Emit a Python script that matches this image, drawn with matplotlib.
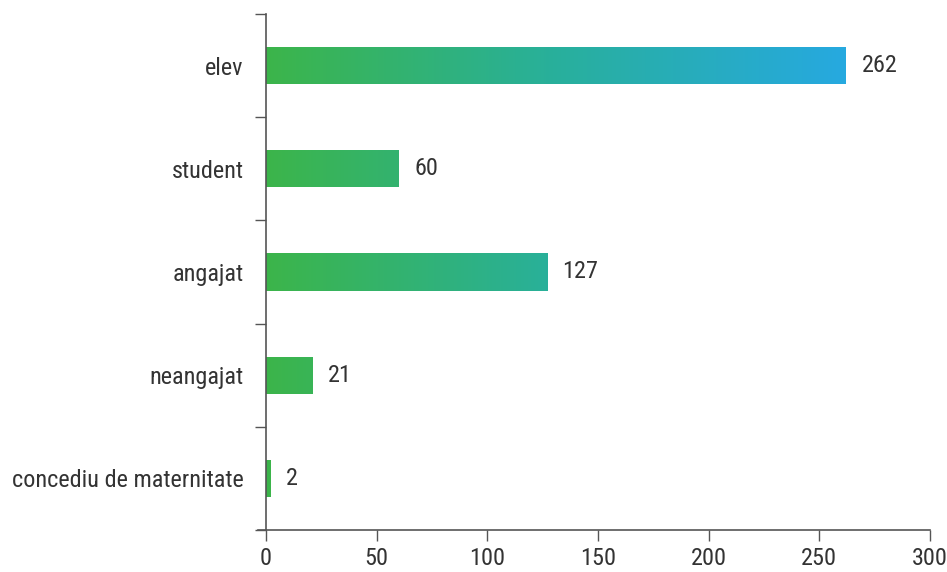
import matplotlib
matplotlib.use("Agg")
import matplotlib.pyplot as plt
import numpy as np
from matplotlib.colors import LinearSegmentedColormap
from matplotlib import font_manager

categories = ["elev", "student", "angajat", "neangajat", "concediu de maternitate"]
values = [262, 60, 127, 21, 2]
xticks = [0, 50, 100, 150, 200, 250, 300]

names = {f.name for f in font_manager.fontManager.ttflist}
fam = [n for n in ["Liberation Sans Narrow", "Roboto Condensed", "Roboto", "DejaVu Sans"] if n in names]
plt.rcParams["font.family"] = fam

txt = "#333333"
spine_c = "#555555"
cmap = LinearSegmentedColormap.from_list("g2b", [(0, "#3cb54a"), (0.48, "#29b099"), (1, "#26a9e0")])
fs = 17.5

fig = plt.figure(figsize=(9.47, 5.72), dpi=100)
ax = fig.add_axes([266/947, 1-530/572, (930-266)/947, (530-14)/572])

ypos = np.arange(len(categories))
bars = ax.barh(ypos, values, height=0.36, color="none", edgecolor="none")
vmax = max(values)
grad = np.linspace(0, 1, 256).reshape(1, -1)
for b, v in zip(bars, values):
    y0 = b.get_y()
    h = b.get_height()
    im = ax.imshow(grad, cmap=cmap, vmin=0, vmax=1, aspect="auto",
                   extent=[0, vmax, y0 + h, y0], interpolation="bicubic", zorder=2)
    im.set_clip_path(b)
    ax.text(v + 7, b.get_y() + h/2, str(v), va="center", ha="left",
            fontsize=fs, color=txt)

ax.set_xlim(0, 300)
ax.set_ylim(len(categories) - 0.5, -0.5)
ax.set_xticks(xticks)
ax.set_xticklabels([str(t) for t in xticks])
ax.set_yticks(ypos)
ax.set_yticklabels(categories)
ax.set_yticks(np.arange(len(categories) + 1) - 0.5, minor=True)
ax.tick_params(axis="y", which="major", length=0, pad=16, labelsize=fs, labelcolor=txt)
ax.tick_params(axis="y", which="minor", length=8, width=1, color=spine_c)
ax.tick_params(axis="x", which="major", length=8, width=1, color=spine_c, labelsize=fs, labelcolor=txt, pad=4)
for s in ["top", "right"]:
    ax.spines[s].set_visible(False)
for s in ["left", "bottom"]:
    ax.spines[s].set_color(spine_c)
    ax.spines[s].set_linewidth(1.2)
ax.spines["bottom"].set_bounds(-3.5, 300)
ax.set_aspect("auto")

fig.savefig("out.png", dpi=100)
